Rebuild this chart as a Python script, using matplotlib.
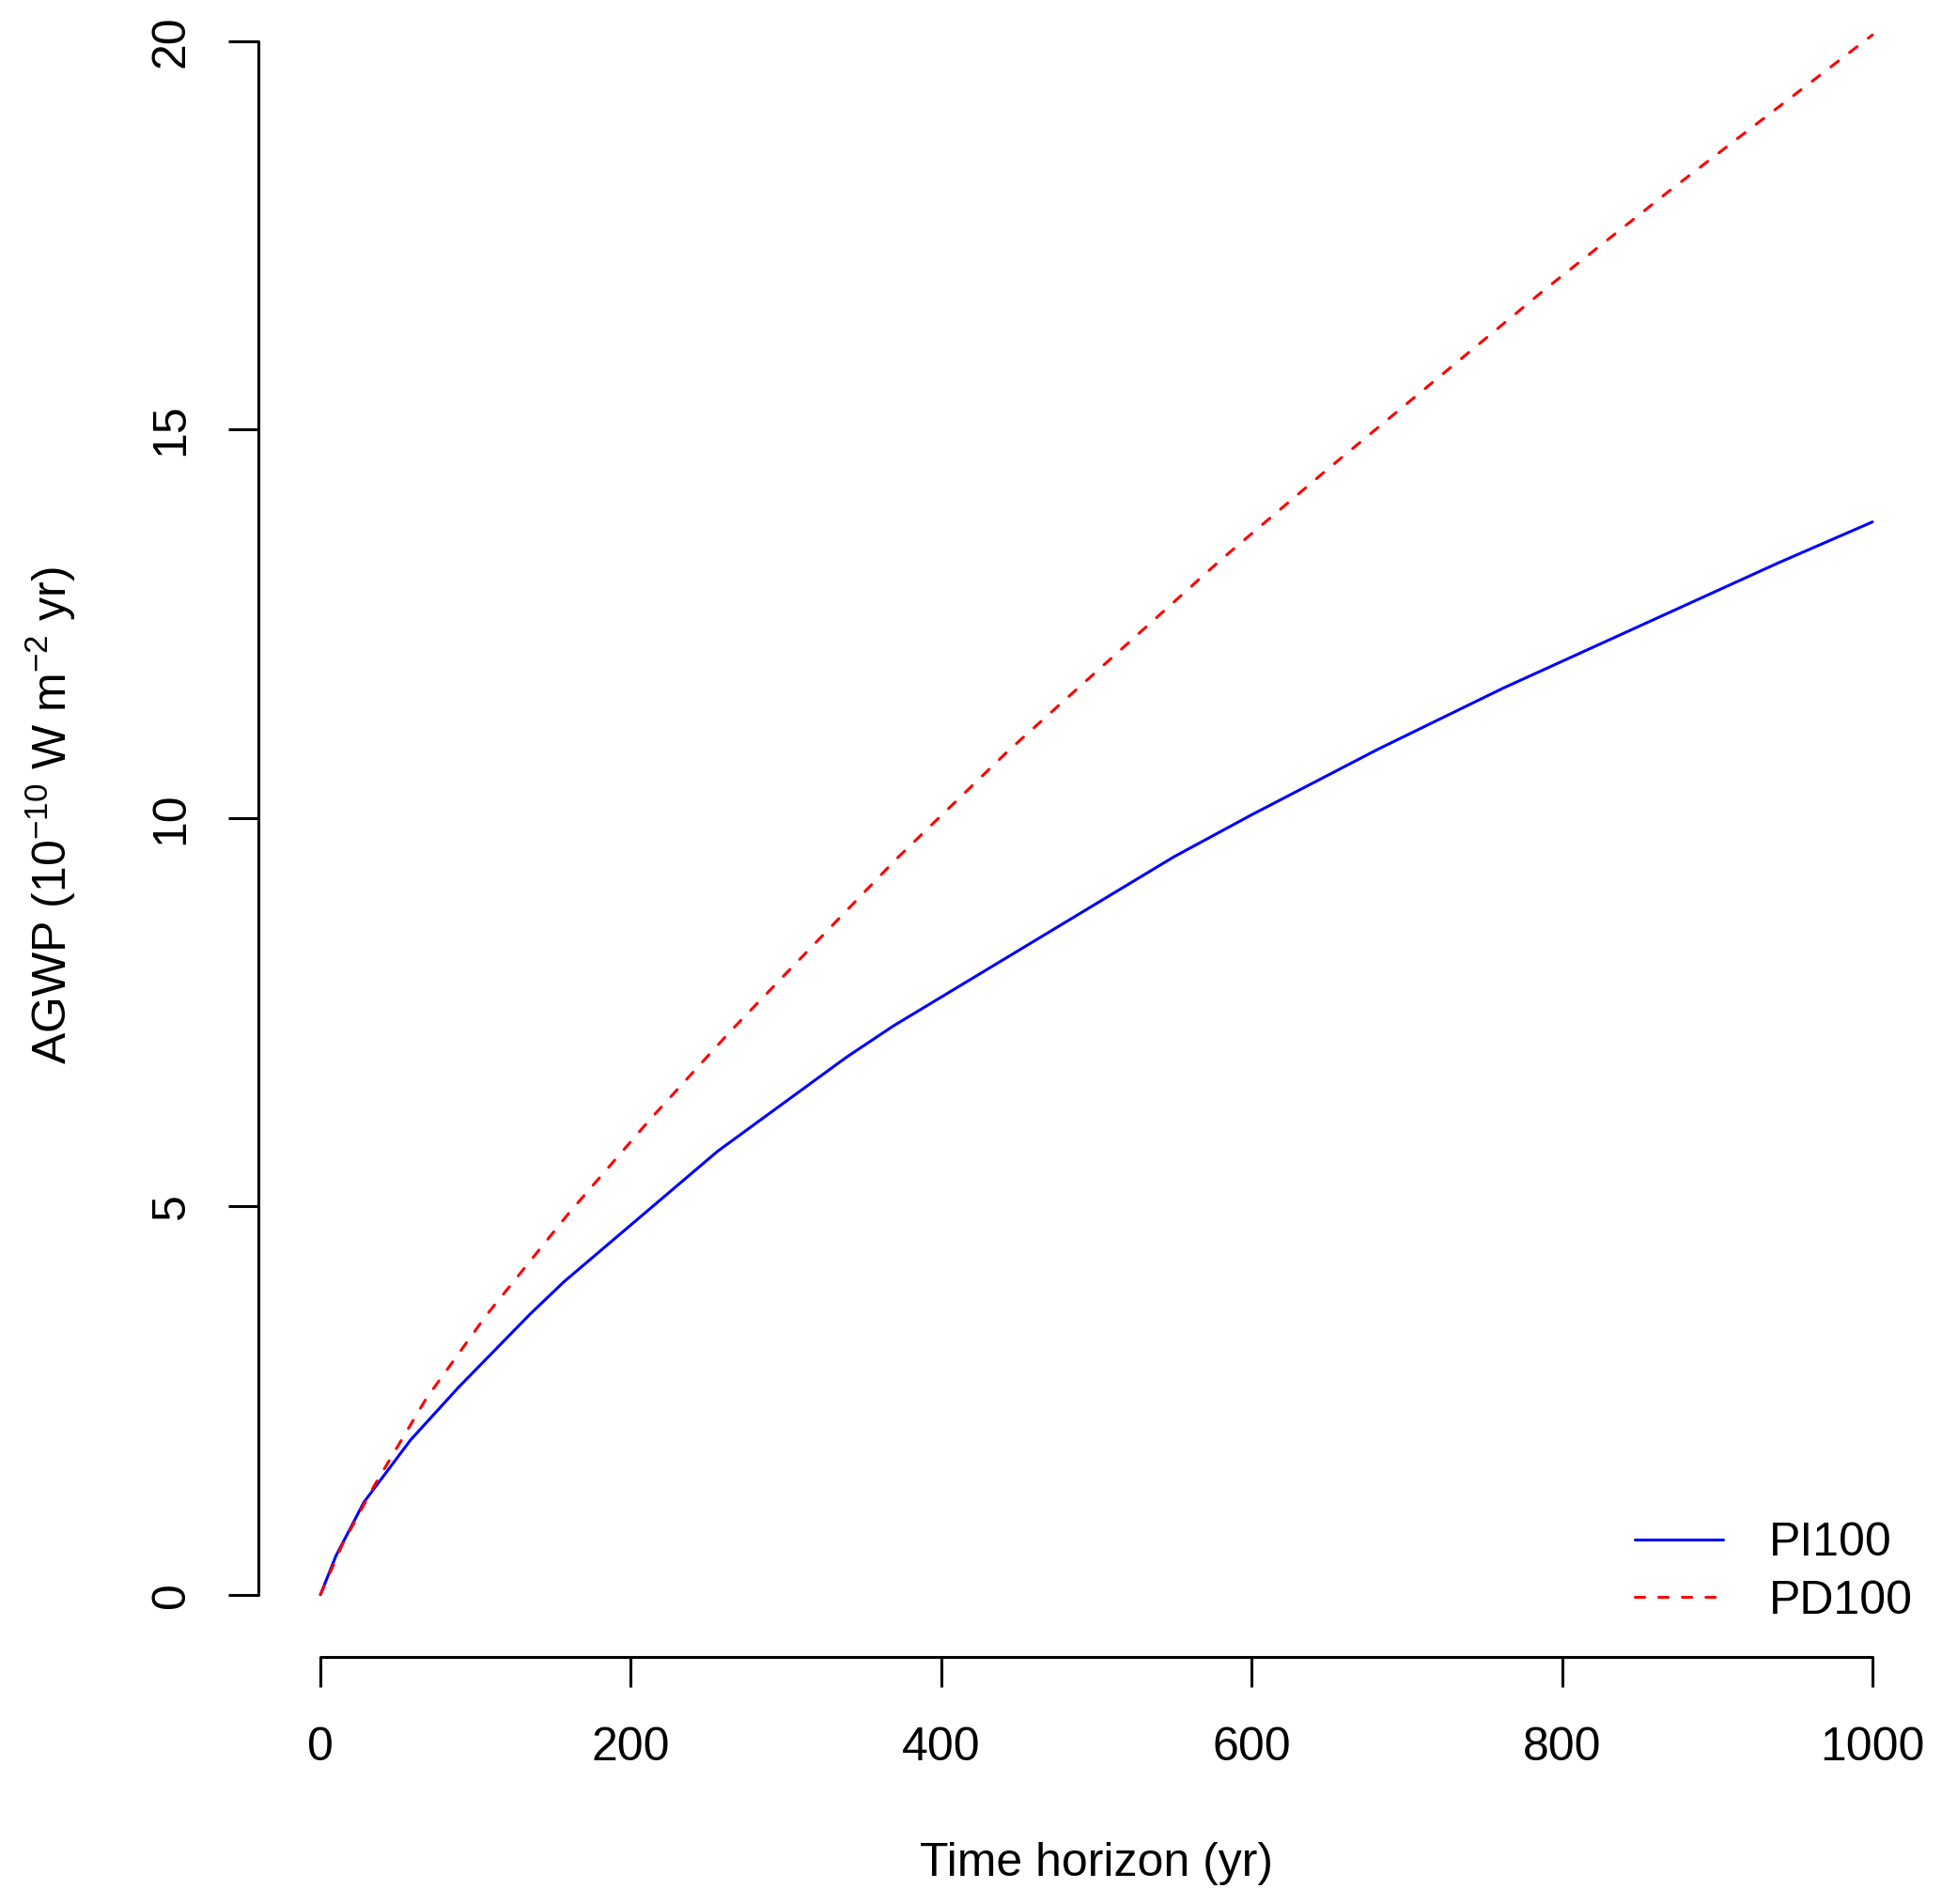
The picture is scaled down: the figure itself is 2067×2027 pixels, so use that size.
import matplotlib
matplotlib.use("Agg")
import matplotlib.pyplot as plt

plt.rcParams['font.family'] = ['Liberation Sans', 'DejaVu Sans']
plt.rcParams['mathtext.fontset'] = 'custom'
plt.rcParams['mathtext.rm'] = 'Liberation Sans'
plt.rcParams['mathtext.it'] = 'Liberation Sans:italic'
plt.rcParams['mathtext.bf'] = 'Liberation Sans:bold'

# ---- data ----
pi100_t = [0, 10, 28, 58, 89, 135, 157, 256, 339, 369, 550, 600, 681, 762, 939, 1000]
pi100_agwp = [0.0, 0.50, 1.19, 1.99, 2.67, 3.61, 4.03, 5.71, 6.92, 7.32, 9.50, 10.04, 10.88, 11.67, 13.28, 13.81]

pd100_t = [0, 14, 34, 68, 107, 160, 212, 264, 371, 443, 580, 649, 790, 869, 1000]
pd100_agwp = [0.0, 0.64, 1.38, 2.52, 3.60, 4.91, 6.11, 7.25, 9.47, 10.86, 13.32, 14.49, 16.82, 18.07, 20.08]

series_labels = ["PI100", "PD100"]
x_ticks = [0, 200, 400, 600, 800, 1000]
y_ticks = [0, 5, 10, 15, 20]
x_label = "Time horizon (yr)"
y_label = r"AGWP (10$^{-10}$ W m$^{-2}$ yr)"

W, H = 2067, 2027
dpi = 100
fig = plt.figure(figsize=(W / dpi, H / dpi), dpi=dpi)

left_px, right_px = 275, 2059
bottom_px, top_px = 1763.5, 0
ax = fig.add_axes([left_px / W, (H - bottom_px) / H, (right_px - left_px) / W, (bottom_px - top_px) / H])

lw = 2.2
ax.plot(pi100_t, pi100_agwp, color='#0000FF', lw=lw, solid_capstyle='round',
        solid_joinstyle='round', label=series_labels[0])
ax.plot(pd100_t, pd100_agwp, color='#FF0000', lw=lw, dashes=(3.3, 4.9),
        dash_capstyle='round', label=series_labels[1])

ax.set_xlim(-40, 1040)
ax.set_ylim(-0.796, 20.53)

for s in ['top', 'right']:
    ax.spines[s].set_visible(False)
ax.spines['bottom'].set_bounds(0, 1000)
ax.spines['left'].set_bounds(0, 20)
for s in ['bottom', 'left']:
    ax.spines[s].set_linewidth(2.2)
    ax.spines[s].set_capstyle('round')

ax.set_xticks(x_ticks)
ax.set_xticklabels([str(v) for v in x_ticks])
ax.set_yticks(y_ticks)
ax.set_yticklabels([str(v) for v in y_ticks], rotation=90, va='center')
ax.tick_params(axis='both', direction='out', length=23, width=2.2, labelsize=36)
ax.tick_params(axis='x', pad=31)
ax.tick_params(axis='y', pad=27)

fig.text(1167 / W, (H - 1997) / H, x_label, fontsize=36, ha='center', va='baseline')
fig.text(54 / W, 1 - 868 / H, y_label, fontsize=36, rotation=90, ha='center', va='center')

leg = ax.legend(loc='center left', bbox_to_anchor=(1740 / W, 1 - 1674 / H),
                bbox_transform=fig.transFigure, frameon=False, fontsize=36,
                handlelength=1.88, handletextpad=0.98, labelspacing=0.30,
                borderpad=0, borderaxespad=0)

fig.savefig("out.png", dpi=dpi)
